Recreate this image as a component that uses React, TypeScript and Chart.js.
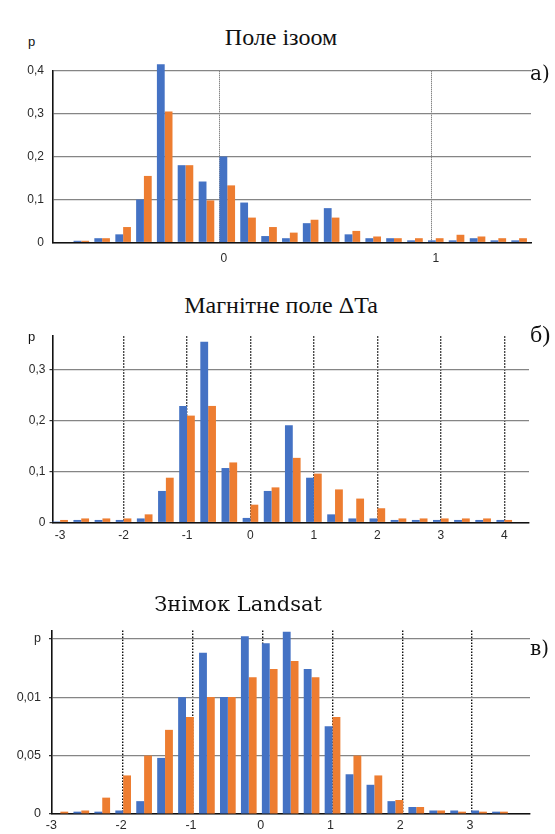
import React, { useEffect, useRef } from "react";
import { Chart, registerables } from "chart.js";
Chart.register(...registerables);

const BLUE = "#4472C4";
const ORANGE = "#ED7D31";

// ---------- Panel a) Поле ізоом ----------
const binsA = [-0.653, -0.555, -0.456, -0.358, -0.26, -0.162, -0.063, 0.035, 0.133, 0.232, 0.33, 0.428, 0.527, 0.625, 0.723, 0.821, 0.92, 1.018, 1.116, 1.215, 1.313, 1.411];
const blueA = [0.004, 0.01, 0.019, 0.1, 0.415, 0.18, 0.142, 0.2, 0.093, 0.015, 0.01, 0.045, 0.08, 0.019, 0.01, 0.01, 0.005, 0.005, 0.005, 0.01, 0.005, 0.005];
const orangeA = [0.004, 0.01, 0.036, 0.155, 0.305, 0.18, 0.098, 0.133, 0.058, 0.036, 0.023, 0.053, 0.058, 0.027, 0.014, 0.01, 0.01, 0.01, 0.018, 0.014, 0.01, 0.01];
const yTickLabelsA = ["0", "0,1", "0,2", "0,3", "0,4"];
const xTickValuesA = [0, 1];
const xTickLabelsA = ["0", "1"];

// ---------- Panel б) Магнітне поле ΔTa ----------
const binsB = [-3, -2.667, -2.333, -2, -1.667, -1.333, -1, -0.667, -0.333, 0, 0.333, 0.667, 1, 1.333, 1.667, 2, 2.333, 2.667, 3, 3.333, 3.667, 4];
const blueB = [0.002, 0.005, 0.005, 0.005, 0.008, 0.062, 0.229, 0.355, 0.107, 0.009, 0.062, 0.191, 0.088, 0.016, 0.008, 0.008, 0.005, 0.005, 0.005, 0.005, 0.005, 0.005];
const orangeB = [0.005, 0.008, 0.008, 0.008, 0.016, 0.088, 0.21, 0.229, 0.118, 0.035, 0.069, 0.127, 0.096, 0.065, 0.047, 0.028, 0.008, 0.008, 0.008, 0.008, 0.008, 0.005];
const yTickLabelsB = ["0", "0,1", "0,2", "0,3"];
const xTickValuesB = [-3, -2, -1, 0, 1, 2, 3, 4];
const xTickLabelsB = ["-3", "-2", "-1", "0", "1", "2", "3", "4"];

// ---------- Panel в) Знімок Landsat ----------
const binsC = [-2.9, -2.6, -2.3, -2.0, -1.7, -1.4, -1.1, -0.8, -0.5, -0.2, 0.1, 0.4, 0.7, 1.0, 1.3, 1.6, 1.9, 2.2, 2.5, 2.8, 3.1, 3.4];
const blueC = [0.0005, 0.002, 0.002, 0.003, 0.011, 0.048, 0.1, 0.138, 0.1, 0.152, 0.146, 0.156, 0.124, 0.075, 0.034, 0.025, 0.011, 0.006, 0.003, 0.003, 0.003, 0.002];
const orangeC = [0.002, 0.003, 0.014, 0.033, 0.05, 0.072, 0.083, 0.1, 0.1, 0.117, 0.124, 0.131, 0.117, 0.083, 0.05, 0.033, 0.012, 0.006, 0.003, 0.002, 0.002, 0.002];
const yTickLabelsC = ["0", "0,05", "0,01", "p"];
const xTickValuesC = [-3, -2, -1, 0, 1, 2, 3];
const xTickLabelsC = ["-3", "-2", "-1", "0", "1", "2", "3"];

type Spec = {
  top: number;
  height: number;
  bins: number[];
  blue: number[];
  orange: number[];
  xMin: number;
  xMax: number;
  yMax: number;
  yStep: number;
  yLabels: string[];
  xValues: number[];
  xLabels: string[];
  padTop: number;
  padRight: number;
  xAxisH: number;
  yAxisW: number;
  yTickLen: number;
  yLabelPad: number;
  xLabelPad: number;
  xLabelOffset: number;
  vColor: string;
  vWidth: number;
  vDash: number[];
  hideX: number | null;
  catPct: number;
  labelSize: number;
};

const specA: Spec = {
  top: 55, height: 220, bins: binsA, blue: blueA, orange: orangeA,
  xMin: -0.789, xMax: 1.467, yMax: 0.4, yStep: 0.1, yLabels: yTickLabelsA,
  xValues: xTickValuesA, xLabels: xTickLabelsA,
  padTop: 8, padRight: 24, xAxisH: 32.5, yAxisW: 52.5, yTickLen: 0, yLabelPad: 8.5,
  xLabelPad: 9, xLabelOffset: 4, vColor: "#555555", vWidth: 1, vDash: [1, 1], hideX: null,
  catPct: 0.75, labelSize: 12,
};

const specB: Spec = {
  top: 325, height: 220, bins: binsB, blue: blueB, orange: orangeB,
  xMin: -3.12, xMax: 4.39, yMax: 0.366, yStep: 0.1, yLabels: yTickLabelsB,
  xValues: xTickValuesB, xLabels: xTickLabelsB,
  padTop: 8.5, padRight: 26, xAxisH: 22.5, yAxisW: 52.5, yTickLen: 3, yLabelPad: 4,
  xLabelPad: 6, xLabelOffset: 0, vColor: "#111111", vWidth: 1.4, vDash: [1.5, 1.5], hideX: -3,
  catPct: 0.74, labelSize: 12,
};

const specC: Spec = {
  top: 615, height: 219, bins: binsC, blue: blueC, orange: orangeC,
  xMin: -3.02, xMax: 3.83, yMax: 0.157, yStep: 0.05, yLabels: yTickLabelsC,
  xValues: xTickValuesC, xLabels: xTickLabelsC,
  padTop: 8, padRight: 25, xAxisH: 20, yAxisW: 52, yTickLen: 3, yLabelPad: 8,
  xLabelPad: 4, xLabelOffset: -2, vColor: "#111111", vWidth: 1.4, vDash: [1.5, 1.5], hideX: -3,
  catPct: 0.75, labelSize: 12.5,
};

function Panel({ spec }: { spec: Spec }) {
  const ref = useRef<HTMLCanvasElement>(null);
  useEffect(() => {
    const s = spec;
    const font = { family: "'Liberation Sans', Arial, sans-serif", size: s.labelSize };
    const chart = new Chart(ref.current as HTMLCanvasElement, {
      type: "bar",
      data: {
        datasets: [
          {
            data: s.bins.map((x, i) => ({ x, y: s.blue[i] })) as any,
            backgroundColor: BLUE,
            borderWidth: 0,
            clip: false as any,
          },
          {
            data: s.bins.map((x, i) => ({ x, y: s.orange[i] })) as any,
            backgroundColor: ORANGE,
            borderWidth: 0,
            clip: false as any,
          },
        ],
      },
      options: {
        responsive: false,
        animation: false,
        layout: { padding: { top: s.padTop, right: s.padRight, left: 0, bottom: 0 } },
        plugins: {
          legend: { display: false },
          tooltip: { enabled: false },
          title: { display: false },
        },
        datasets: {
          bar: { categoryPercentage: s.catPct, barPercentage: 1 },
        },
        scales: {
          x: {
            type: "linear",
            min: s.xMin,
            max: s.xMax,
            offset: false,
            ticks: {
              stepSize: 1,
              includeBounds: false,
              autoSkip: false,
              maxRotation: 0,
              padding: s.xLabelPad,
              labelOffset: s.xLabelOffset,
              font,
              color: "#2a2a2a",
              callback: (v: any) => {
                const i = s.xValues.findIndex((t) => Math.abs(t - Number(v)) < 1e-6);
                return i >= 0 ? s.xLabels[i] : "";
              },
            },
            grid: {
              offset: false,
              color: (c: any) =>
                s.hideX !== null && c.tick && Math.abs(c.tick.value - s.hideX) < 1e-6
                  ? "rgba(0,0,0,0)"
                  : s.vColor,
              lineWidth: s.vWidth,
              drawTicks: false,
            },
            border: { display: true, color: "#111111", width: 1.6, dash: s.vDash },
            afterFit: (sc: any) => {
              sc.height = s.xAxisH;
            },
          },
          y: {
            type: "linear",
            min: 0,
            max: s.yMax,
            ticks: {
              stepSize: s.yStep,
              includeBounds: false,
              padding: s.yLabelPad,
              font,
              color: "#2a2a2a",
              callback: (_v: any, i: number) => s.yLabels[i],
            },
            grid: {
              color: "#858585",
              lineWidth: 1.2,
              drawTicks: s.yTickLen > 0,
              tickLength: s.yTickLen,
              tickColor: "#333333",
            },
            border: { display: true, color: "#111111", width: 1.6 },
            afterFit: (sc: any) => {
              sc.width = s.yAxisW;
            },
          },
        },
      } as any,
    });
    return () => chart.destroy();
  }, [spec]);
  return (
    <canvas
      ref={ref}
      width={555}
      height={spec.height}
      style={{ position: "absolute", left: 0, top: spec.top, width: 555, height: spec.height }}
    />
  );
}

function Txt({
  text, left, top, size, family, center, weight,
}: {
  text: string; left: number; top: number; size: number; family: string; center?: boolean; weight?: number;
}) {
  return (
    <div
      style={{
        position: "absolute",
        left: center ? left - 200 : left,
        width: center ? 400 : undefined,
        top,
        fontSize: size,
        lineHeight: 1,
        fontFamily: family,
        fontWeight: weight ?? 400,
        textAlign: center ? "center" : "left",
        whiteSpace: "nowrap",
        color: "#111",
      }}
    >
      {text}
    </div>
  );
}

const SERIF = "'Liberation Serif', 'Times New Roman', serif";
const SLAB = "'DejaVu Serif', serif";
const SANS = "'Liberation Sans', Arial, sans-serif";

export default function App() {
  return (
    <div style={{ position: "absolute", left: 0, top: 0, width: 555, height: 834, background: "#fff", overflow: "hidden" }}>
      <Panel spec={specA} />
      <Panel spec={specB} />
      <Panel spec={specC} />
      <Txt text="Поле ізоом" left={281} top={25} size={24} family={SERIF} center />
      <Txt text="p" left={28} top={35} size={13} family={SANS} />
      <Txt text="a)" left={530} top={63} size={20} family={SLAB} />
      <Txt text="Магнітне поле ΔTa" left={281} top={293} size={24} family={SERIF} center />
      <Txt text="p" left={28} top={330} size={13} family={SANS} />
      <Txt text="б)" left={530} top={322} size={24} family={SERIF} />
      <Txt text="Знімок Landsat" left={238} top={594} size={21} family={SLAB} center />
      <Txt text="в)" left={530} top={638} size={20} family={SLAB} />
    </div>
  );
}
